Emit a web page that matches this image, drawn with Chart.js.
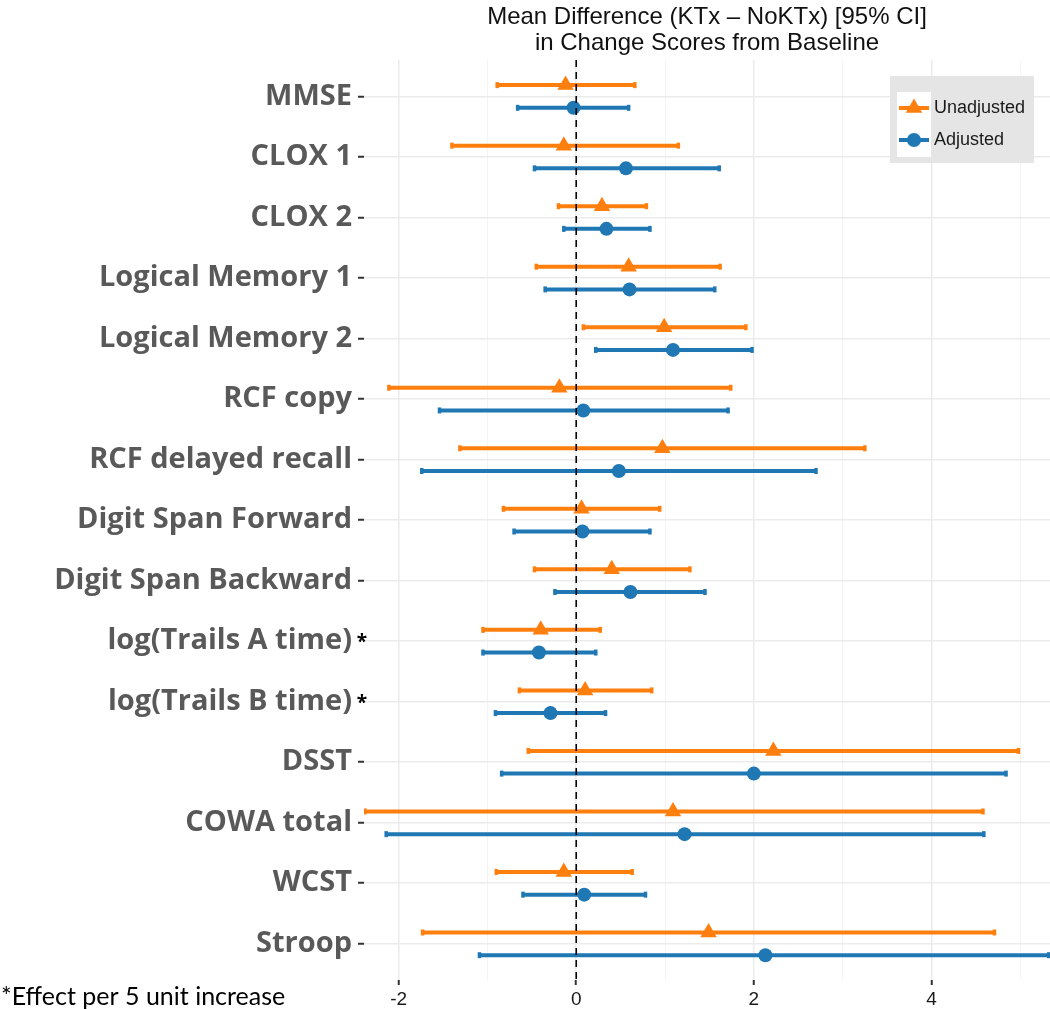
<!DOCTYPE html>
<html>
<head>
<meta charset="utf-8">
<title>Mean Difference in Change Scores</title>
<script src="https://cdn.jsdelivr.net/npm/chart.js@4.4.0/dist/chart.umd.min.js"></script>
<style>
  html, body { margin: 0; padding: 0; background: #fff; overflow: hidden; }
  canvas { display: block; }
</style>
</head>
<body>
<canvas id="forest-chart" width="1050" height="1009"></canvas>
<script>
// rows, top to bottom
var measures = [
  'MMSE', 'CLOX 1', 'CLOX 2', 'Logical Memory 1', 'Logical Memory 2',
  'RCF copy', 'RCF delayed recall', 'Digit Span Forward', 'Digit Span Backward',
  'log(Trails A time)', 'log(Trails B time)', 'DSST', 'COWA total', 'WCST', 'Stroop'
];
// rows marked with * (effect per 5 unit increase)
var perFiveUnits = ['log(Trails A time)', 'log(Trails B time)'];

var unadjustedMean = [-0.12, -0.14, 0.29, 0.59, 0.99, -0.19, 0.97, 0.06, 0.40, -0.40, 0.10, 2.22, 1.09, -0.14, 1.49];
var unadjustedLow = [-0.89, -1.40, -0.20, -0.45, 0.08, -2.11, -1.31, -0.82, -0.47, -1.05, -0.64, -0.54, -2.38, -0.90, -1.73];
var unadjustedHigh = [0.66, 1.15, 0.79, 1.62, 1.91, 1.74, 3.25, 0.94, 1.28, 0.27, 0.85, 4.98, 4.58, 0.63, 4.71];

var adjustedMean = [-0.03, 0.56, 0.34, 0.60, 1.09, 0.08, 0.48, 0.07, 0.61, -0.42, -0.29, 2.00, 1.22, 0.09, 2.13];
var adjustedLow = [-0.66, -0.47, -0.14, -0.35, 0.22, -1.54, -1.74, -0.70, -0.24, -1.05, -0.91, -0.84, -2.14, -0.60, -1.09];
var adjustedHigh = [0.59, 1.61, 0.83, 1.56, 1.98, 1.71, 2.70, 0.83, 1.45, 0.22, 0.33, 4.84, 4.59, 0.78, 5.32];

var xTickValues = [-2, -1, 0, 1, 2, 3, 4, 5];
var xMin = -2.39;
var xMax = 5.335;

var titleLines = ['Mean Difference (KTx \u2013 NoKTx) [95% CI]', 'in Change Scores from Baseline'];
var footnote = '*Effect per 5 unit increase';

var orange = '#ff7f0e';
var blue = '#1f77b4';

var series = [
  { name: 'Unadjusted', mean: unadjustedMean, low: unadjustedLow, high: unadjustedHigh,
    color: orange, shift: -0.185, pointStyle: 'triangle', radius: 9.5 },
  { name: 'Adjusted', mean: adjustedMean, low: adjustedLow, high: adjustedHigh,
    color: blue, shift: 0.19, pointStyle: 'circle', radius: 7 }
];

function buildDatasets() {
  var datasets = [];

  series.forEach(function (s) {
    // CI bars with end caps
    measures.forEach(function (m, i) {
      datasets.push({
        type: 'line',
        label: s.name + ' CI ' + m,
        data: [{ x: s.low[i], y: i + s.shift }, { x: s.high[i], y: i + s.shift }],
        borderColor: s.color,
        borderWidth: 4,
        pointStyle: 'line',
        pointRotation: 90,
        pointRadius: 3,
        pointBorderWidth: 3.5,
        pointBorderColor: s.color,
        pointHoverRadius: 3,
        order: 2
      });
    });

    // estimates
    datasets.push({
      type: 'scatter',
      label: s.name,
      data: s.mean.map(function (v, i) { return { x: v, y: i + s.shift }; }),
      pointStyle: s.pointStyle,
      pointRadius: s.radius,
      pointHoverRadius: s.radius,
      backgroundColor: s.color,
      borderWidth: 0,
      order: 1
    });
  });

  // reference line at zero
  datasets.push({
    type: 'line',
    label: 'zero',
    data: [{ x: 0, y: -0.6 }, { x: 0, y: measures.length - 0.4 }],
    borderColor: '#000',
    borderWidth: 1.6,
    borderDash: [7, 5],
    pointRadius: 0,
    order: 0
  });

  return datasets;
}

// legend box, footnote and the black asterisks
var extrasPlugin = {
  id: 'extras',
  afterDraw: function (chart) {
    var ctx = chart.ctx;
    var area = chart.chartArea;
    var yScale = chart.scales.y;

    ctx.save();

    // asterisks next to the log(Trails) labels
    ctx.fillStyle = '#000';
    ctx.font = 'bold 19px "Open Sans"';
    ctx.textAlign = 'center';
    ctx.textBaseline = 'middle';
    measures.forEach(function (m, i) {
      if (perFiveUnits.indexOf(m) >= 0) {
        ctx.fillText('*', area.left - 2, yScale.getPixelForValue(i) + 2);
      }
    });

    // footnote
    ctx.font = '25px Lato';
    ctx.textAlign = 'left';
    ctx.fillStyle = '#000';
    ctx.fillText(footnote, 1, 997);

    // legend
    var boxX = area.right - 160;
    var boxY = area.top + 16;
    ctx.fillStyle = '#e5e5e5';
    ctx.fillRect(boxX, boxY, 144, 87);
    ctx.fillStyle = '#fff';
    ctx.fillRect(boxX + 7, boxY + 16, 34, 65);

    series.forEach(function (s, k) {
      var cy = boxY + 32 + k * 32;
      var cx = boxX + 24;
      ctx.strokeStyle = s.color;
      ctx.lineWidth = 4;
      ctx.beginPath();
      ctx.moveTo(cx - 15, cy);
      ctx.lineTo(cx + 15, cy);
      ctx.stroke();
      ctx.fillStyle = s.color;
      Chart.helpers.drawPoint(ctx, {
        pointStyle: s.pointStyle, radius: s.radius, rotation: 0, borderWidth: 0
      }, cx, cy);
      ctx.fillStyle = '#1a1a1a';
      ctx.font = '18px "Liberation Sans"';
      ctx.textAlign = 'left';
      ctx.fillText(s.name, boxX + 44, cy);
    });

    ctx.restore();
  }
};

var ctx = document.getElementById('forest-chart').getContext('2d');

new Chart(ctx, {
  data: { datasets: buildDatasets() },
  plugins: [extrasPlugin],
  options: {
    responsive: false,
    devicePixelRatio: 1,
    animation: false,
    events: [],
    layout: { autoPadding: false, padding: 0 },
    plugins: {
      legend: { display: false },
      tooltip: { enabled: false },
      title: { display: false }
    },
    scales: {
      x: {
        type: 'linear',
        position: 'bottom',
        min: xMin,
        max: xMax,
        afterBuildTicks: function (axis) {
          axis.ticks = xTickValues.map(function (v) { return { value: v }; });
        },
        afterFit: function (axis) { axis.height = 29; },
        border: { display: false },
        grid: {
          color: function (c) { return c.tick && c.tick.value % 2 === 0 ? '#ebebeb' : '#f4f4f4'; },
          lineWidth: function (c) { return c.tick && c.tick.value % 2 === 0 ? 1.5 : 1; },
          tickColor: function (c) { return c.tick && c.tick.value % 2 === 0 ? '#333' : 'rgba(0,0,0,0)'; },
          tickLength: 5,
          tickWidth: 2
        },
        ticks: {
          autoSkip: false,
          maxRotation: 0,
          padding: 3,
          color: '#1a1a1a',
          font: { family: '"Liberation Sans"', size: 19 },
          callback: function (v) { return v % 2 === 0 ? (v < 0 ? '-' + Math.abs(v) : String(v)) : ''; }
        }
      },
      xTitle: {
        type: 'linear',
        axis: 'x',
        position: 'top',
        min: xMin,
        max: xMax,
        afterFit: function (axis) { axis.height = 60; },
        border: { display: false },
        grid: { display: false, drawTicks: false },
        ticks: { display: false },
        title: {
          display: true,
          text: titleLines,
          color: '#111',
          font: { family: '"Liberation Sans"', size: 24, lineHeight: 1.1 },
          padding: { top: 4, bottom: 0 }
        }
      },
      y: {
        type: 'linear',
        reverse: true,
        min: -0.6,
        max: measures.length - 0.4,
        afterBuildTicks: function (axis) {
          axis.ticks = measures.map(function (m, i) { return { value: i }; });
        },
        afterFit: function (axis) { axis.width = 364; },
        border: { display: false },
        grid: {
          color: '#ebebeb',
          lineWidth: 1.5,
          tickColor: function (c) {
            return c.tick && perFiveUnits.indexOf(measures[c.tick.value]) >= 0 ? 'rgba(0,0,0,0)' : '#333';
          },
          tickLength: 6,
          tickWidth: 2
        },
        ticks: {
          autoSkip: false,
          padding: 6,
          color: '#595959',
          font: { family: '"Open Sans"', weight: 'bold', size: 29 },
          callback: function (v) { return measures[v]; }
        }
      }
    }
  }
});
</script>
</body>
</html>
